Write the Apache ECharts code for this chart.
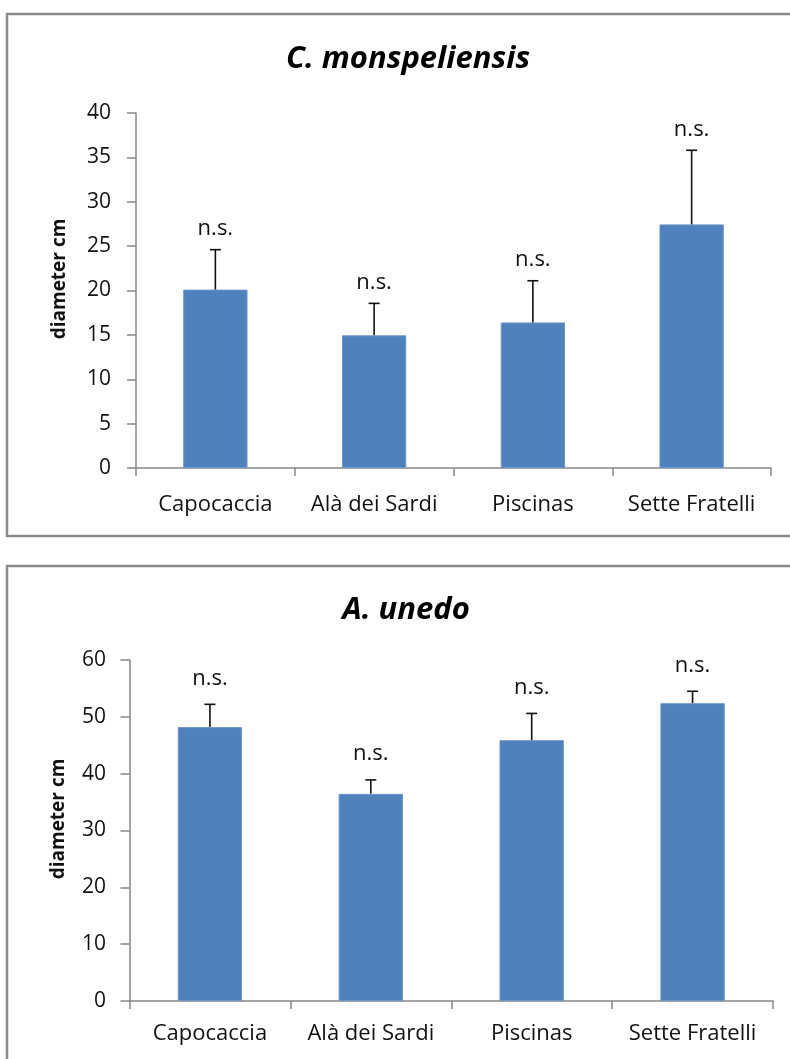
<!DOCTYPE html>
<html>
<head>
<meta charset="utf-8">
<script src="https://cdn.jsdelivr.net/npm/echarts@6/dist/echarts.min.js"></script>
<style>
  html, body { margin: 0; padding: 0; background: #ffffff; overflow: hidden; }
  #chart { width: 790px; height: 1059px; }
</style>
</head>
<body>
<div id="chart"></div>
<script>
// Sites sampled
const categories = ['Capocaccia', 'Alà dei Sardi', 'Piscinas', 'Sette Fratelli'];

// Cistus monspeliensis: mean stem diameter (cm) and standard error
const monspeliensisMean = [20.1, 14.95, 16.4, 27.45];
const monspeliensisErr = [4.5, 3.6, 4.7, 8.35];
const monspeliensisSig = ['n.s.', 'n.s.', 'n.s.', 'n.s.'];
const monspeliensisTicks = [0, 5, 10, 15, 20, 25, 30, 35, 40];

// Arbutus unedo: mean stem diameter (cm) and standard error
const unedoMean = [48.2, 36.45, 45.9, 52.4];
const unedoErr = [4.0, 2.45, 4.7, 2.1];
const unedoSig = ['n.s.', 'n.s.', 'n.s.', 'n.s.'];
const unedoTicks = [0, 10, 20, 30, 40, 50, 60];

const FONT = '"Open Sans", "DejaVu Sans", sans-serif';
const AXIS_COLOR = '#868686';
const BAR_COLOR = '#4f81bd';
const TEXT_COLOR = '#111111';

const chart = echarts.init(document.getElementById('chart'), null, { renderer: 'canvas' });

function errorRows(means, errs, sig) {
  return means.map((m, i) => [i, m, m + errs[i], sig[i]]);
}

// Error whisker (upper side only) with cap, plus significance text above it
function makeErrorSeries(idx, rows, labelGap) {
  return {
    type: 'custom',
    xAxisIndex: idx,
    yAxisIndex: idx,
    z: 5,
    silent: true,
    data: rows,
    renderItem: function (params, api) {
      const base = api.coord([api.value(0), api.value(1)]);
      const top = api.coord([api.value(0), api.value(2)]);
      const half = 5.5;
      const style = { stroke: TEXT_COLOR, lineWidth: 1.6 };
      return {
        type: 'group',
        children: [
          { type: 'line', shape: { x1: base[0], y1: base[1], x2: top[0], y2: top[1] }, style: style },
          { type: 'line', shape: { x1: top[0] - half, y1: top[1], x2: top[0] + half, y2: top[1] }, style: style },
          {
            type: 'text',
            x: top[0],
            y: top[1] - labelGap,
            style: {
              text: rows[params.dataIndex][3],
              font: '22px ' + FONT,
              fill: TEXT_COLOR,
              align: 'center',
              verticalAlign: 'middle'
            }
          }
        ]
      };
    }
  };
}

function yAxisDef(idx, ticks, gap, margin) {
  return {
    type: 'value',
    gridIndex: idx,
    min: ticks[0],
    max: ticks[ticks.length - 1],
    interval: ticks[1] - ticks[0],
    name: 'diameter cm',
    nameLocation: 'middle',
    nameRotate: 90,
    nameGap: gap,
    nameTextStyle: {
      fontFamily: FONT, fontWeight: 'bold', fontSize: 19, color: TEXT_COLOR,
      padding: [0, 0, 0, 23]
    },
    axisLine: { show: true, lineStyle: { color: AXIS_COLOR, width: 1.5 } },
    axisTick: { show: true, length: 9, lineStyle: { color: AXIS_COLOR, width: 1.5 } },
    axisLabel: { margin: margin, fontFamily: FONT, fontSize: 21, color: TEXT_COLOR },
    splitLine: { show: false }
  };
}

function xAxisDef(idx, margin) {
  return {
    type: 'category',
    gridIndex: idx,
    data: categories,
    boundaryGap: true,
    axisLine: { show: true, lineStyle: { color: AXIS_COLOR, width: 1.5 } },
    axisTick: { show: true, length: 8, alignWithLabel: false, lineStyle: { color: AXIS_COLOR, width: 1.5 } },
    axisLabel: { margin: margin, fontFamily: FONT, fontSize: 22, color: TEXT_COLOR, interval: 0 }
  };
}

const option = {
  animation: false,
  backgroundColor: '#ffffff',
  graphic: [
    { type: 'rect', shape: { x: 7, y: 14, width: 800, height: 522 },
      style: { fill: 'none', stroke: '#8a8a8a', lineWidth: 2.5 }, z: -10 },
    { type: 'rect', shape: { x: 7, y: 566, width: 800, height: 520 },
      style: { fill: 'none', stroke: '#8a8a8a', lineWidth: 2.5 }, z: -10 }
  ],
  title: [
    {
      text: 'C. monspeliensis',
      left: 403, top: 39, textAlign: 'center',
      textStyle: { fontFamily: FONT, fontStyle: 'italic', fontWeight: 'bold', fontSize: 31, color: '#000' }
    },
    {
      text: 'A. unedo',
      left: 401, top: 590, textAlign: 'center',
      textStyle: { fontFamily: FONT, fontStyle: 'italic', fontWeight: 'bold', fontSize: 31, color: '#000' }
    }
  ],
  grid: [
    { left: 136, right: 19, top: 113, bottom: 591, containLabel: false },
    { left: 129.5, right: 17, top: 660, bottom: 58, containLabel: false }
  ],
  xAxis: [xAxisDef(0, 26), xAxisDef(1, 22)],
  yAxis: [yAxisDef(0, monspeliensisTicks, 67, 25), yAxisDef(1, unedoTicks, 61, 23.5)],
  series: [
    {
      type: 'bar', xAxisIndex: 0, yAxisIndex: 0, data: monspeliensisMean,
      barWidth: '40.5%', itemStyle: { color: BAR_COLOR, borderColor: '#6f95c8', borderWidth: 1 }, silent: true
    },
    makeErrorSeries(0, errorRows(monspeliensisMean, monspeliensisErr, monspeliensisSig), 21),
    {
      type: 'bar', xAxisIndex: 1, yAxisIndex: 1, data: unedoMean,
      barWidth: '40%', itemStyle: { color: BAR_COLOR, borderColor: '#6f95c8', borderWidth: 1 }, silent: true
    },
    makeErrorSeries(1, errorRows(unedoMean, unedoErr, unedoSig), 26)
  ]
};

chart.setOption(option);
</script>
</body>
</html>
